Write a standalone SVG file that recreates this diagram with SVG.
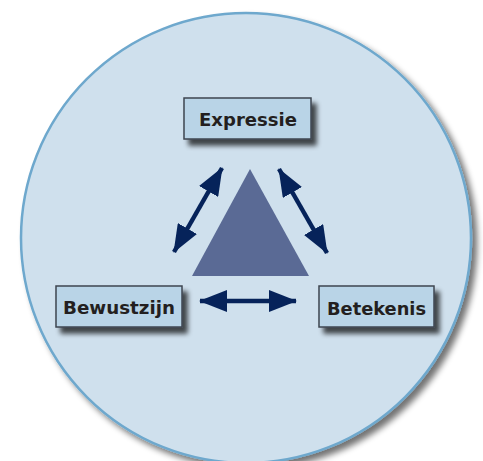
<svg xmlns="http://www.w3.org/2000/svg" width="483" height="461" viewBox="0 0 483 461">
<defs>
<filter id="shadow" x="-20%" y="-20%" width="150%" height="150%">
<feGaussianBlur in="SourceAlpha" stdDeviation="3"/>
<feOffset dx="5" dy="5" result="b"/>
<feComponentTransfer><feFuncA type="linear" slope="0.55"/></feComponentTransfer>
<feMerge><feMergeNode/><feMergeNode in="SourceGraphic"/></feMerge>
</filter>
<filter id="bshadow" x="-20%" y="-30%" width="150%" height="180%">
<feGaussianBlur in="SourceAlpha" stdDeviation="2.5"/>
<feOffset dx="5" dy="6" result="b"/>
<feComponentTransfer><feFuncA type="linear" slope="0.7"/></feComponentTransfer>
<feMerge><feMergeNode/><feMergeNode in="SourceGraphic"/></feMerge>
</filter>
<marker id="head" viewBox="0 0 28 22" refX="27" refY="11" markerWidth="28" markerHeight="22" markerUnits="userSpaceOnUse" orient="auto-start-reverse">
<path d="M0,0 L28,11 L0,22 z" fill="#06235a"/>
</marker>
<style>
.box{fill:#b9d4e7;stroke:#3d4650;stroke-width:1.5;}
.lbl{font-family:"DejaVu Sans","Liberation Sans",sans-serif;font-weight:bold;font-size:18.5px;fill:#231f20;}
.arr{stroke:#06235a;stroke-width:4.5;fill:none;marker-start:url(#head);marker-end:url(#head);}
</style>
</defs>
<rect width="483" height="461" fill="#ffffff"/>
<g id="circle">
<circle cx="246" cy="238" r="225" fill="#cfe0ed" stroke="#6ea8cd" stroke-width="2.5" filter="url(#shadow)"/>
</g>
<g id="triangle">
<polygon points="250,169 309,276 192,276" fill="#5a6a95"/>
</g>
<g id="connectors">
<line class="arr" x1="222" y1="168" x2="174" y2="252"/>
<line class="arr" x1="279" y1="169" x2="327" y2="253"/>
<line class="arr" x1="200" y1="301" x2="296" y2="301"/>
</g>
<g id="expressie">
<rect class="box" x="184" y="98" width="127" height="41" filter="url(#bshadow)"/>
<text class="lbl" x="199" y="125.5" textLength="98" lengthAdjust="spacingAndGlyphs">Expressie</text>
</g>
<g id="bewustzijn">
<rect class="box" x="56" y="286" width="126" height="41" filter="url(#bshadow)"/>
<text class="lbl" x="63" y="314" textLength="112" lengthAdjust="spacingAndGlyphs">Bewustzijn</text>
</g>
<g id="betekenis">
<rect class="box" x="319" y="286" width="115" height="41" filter="url(#bshadow)"/>
<text class="lbl" x="327" y="315" textLength="99" lengthAdjust="spacingAndGlyphs">Betekenis</text>
</g>
</svg>
